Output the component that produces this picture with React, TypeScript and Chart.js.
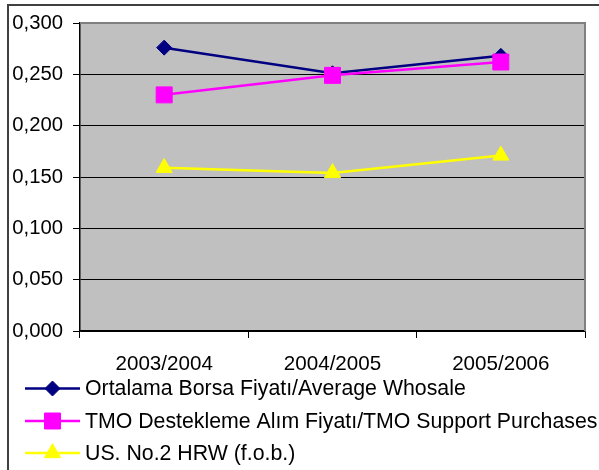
import React, { useEffect, useRef } from "react";
import { Chart, registerables } from "chart.js";

Chart.register(...registerables);

const categories = ["2003/2004", "2004/2005", "2005/2006"];
const averageWholesale = [0.276, 0.251, 0.268];
const tmoSupport = [0.230, 0.249, 0.262];
const usHrw = [0.159, 0.154, 0.171];
const seriesNames = [
  "Ortalama Borsa Fiyatı/Average Whosale",
  "TMO Destekleme Alım Fiyatı/TMO Support Purchases",
  "US. No.2 HRW (f.o.b.)",
];
const yTicks = { min: 0, max: 0.3, step: 0.05 };

const FONT = "'Liberation Sans', Arial, sans-serif";

function drawMarker(ctx: CanvasRenderingContext2D, style: string, r: number, x: number, y: number) {
  ctx.beginPath();
  if (style === "rectRot") {
    ctx.moveTo(x - r, y);
    ctx.lineTo(x, y - r);
    ctx.lineTo(x + r, y);
    ctx.lineTo(x, y + r);
  } else if (style === "rect") {
    const s = r * Math.SQRT1_2;
    ctx.rect(x - s, y - s, 2 * s, 2 * s);
  } else {
    const h = r * 1.5;
    const w = (r * Math.sqrt(3)) / 2;
    ctx.moveTo(x, y - r);
    ctx.lineTo(x + w, y + h - r);
    ctx.lineTo(x - w, y + h - r);
  }
  ctx.closePath();
  ctx.fill();
  ctx.stroke();
}

const decor = {
  id: "decor",
  beforeDraw(chart: any) {
    const { ctx, chartArea: a } = chart;
    ctx.save();
    ctx.fillStyle = "#C0C0C0";
    ctx.fillRect(a.left, a.top, a.right - a.left, a.bottom - a.top);
    ctx.restore();
  },
  afterDatasetsDraw(chart: any) {
    const { ctx, chartArea: a } = chart;
    ctx.save();
    ctx.strokeStyle = "#808080";
    ctx.lineWidth = 2;
    ctx.beginPath();
    ctx.moveTo(a.left, a.top);
    ctx.lineTo(a.right, a.top);
    ctx.lineTo(a.right, a.bottom);
    ctx.stroke();
    ctx.restore();
  },
  afterDraw(chart: any) {
    const { ctx } = chart;
    ctx.save();
    ctx.strokeStyle = "#404040";
    ctx.lineWidth = 2;
    ctx.beginPath();
    ctx.moveTo(8, 470);
    ctx.lineTo(8, 5);
    ctx.lineTo(599, 5);
    ctx.stroke();
    const ys = [388.5, 421, 453];
    chart.data.datasets.forEach((ds: any, i: number) => {
      const y = ys[i];
      ctx.strokeStyle = ds.borderColor;
      ctx.lineWidth = 2.5;
      ctx.beginPath();
      ctx.moveTo(25, y);
      ctx.lineTo(80, y);
      ctx.stroke();
      ctx.fillStyle = ds.backgroundColor;
      ctx.strokeStyle = ds.borderColor;
      ctx.lineWidth = 1;
      drawMarker(ctx, ds.pointStyle, ds.pointRadius, 52.5, y);
      ctx.fillStyle = "#000";
      ctx.font = `21.3px ${FONT}`;
      ctx.textBaseline = "middle";
      ctx.textAlign = "left";
      ctx.fillText(ds.label, 85, y + 1);
    });
    ctx.restore();
  },
};

export default function App() {
  const ref = useRef<HTMLCanvasElement>(null);
  useEffect(() => {
    if (!ref.current) return;
    const mk = (label: string, data: number[], color: string, style: string, radius: number, order: number) => ({
      label,
      data,
      borderColor: color,
      backgroundColor: color,
      borderWidth: 2.5,
      pointStyle: style,
      pointRadius: radius,
      pointBorderWidth: 1,
      pointBackgroundColor: color,
      pointBorderColor: color,
      tension: 0,
      order,
    });
    const chart = new Chart(ref.current, {
      type: "line",
      data: {
        labels: categories,
        datasets: [
          mk(seriesNames[0], averageWholesale, "#000080", "rectRot", 7.5, 2),
          mk(seriesNames[1], tmoSupport, "#FF00FF", "rect", 11.3, 1),
          mk(seriesNames[2], usHrw, "#FFFF00", "triangle", 9.3, 0),
        ],
      },
      options: {
        animation: false,
        responsive: false,
        devicePixelRatio: 1,
        layout: { padding: { top: 23, right: 14, left: 0, bottom: 0 } },
        plugins: { legend: { display: false }, tooltip: { enabled: false } },
        scales: {
          x: {
            offset: true,
            afterFit: (s: any) => { s.height = 139; },
            grid: {
              offset: true,
              drawOnChartArea: false,
              drawTicks: true,
              tickLength: 7,
              color: "#000",
            },
            border: { color: "#000", width: 1.5 },
            ticks: { color: "#000", font: { size: 20.6, family: FONT }, padding: 14, maxRotation: 0 },
          },
          y: {
            min: yTicks.min,
            max: yTicks.max,
            afterFit: (s: any) => { s.width = 80; },
            ticks: {
              stepSize: yTicks.step,
              color: "#000",
              font: { size: 20.3, family: FONT },
              padding: 10,
              callback: (v: any) => Number(v).toFixed(3).replace(".", ","),
            },
            grid: {
              color: (c: any) => (c.tick && Math.abs(c.tick.value - 0.3) < 1e-9 ? "#808080" : "#000"),
              tickColor: "#000",
              tickLength: 7,
              lineWidth: 1,
            },
            border: { color: "#000", width: 1.5 },
          },
        },
      },
      plugins: [decor],
    } as any);
    return () => chart.destroy();
  }, []);
  return (
    <div style={{ position: "absolute", left: 0, top: 0, width: 599, height: 470, background: "#fff" }}>
      <canvas ref={ref} width={599} height={470} style={{ width: 599, height: 470 }} />
    </div>
  );
}
